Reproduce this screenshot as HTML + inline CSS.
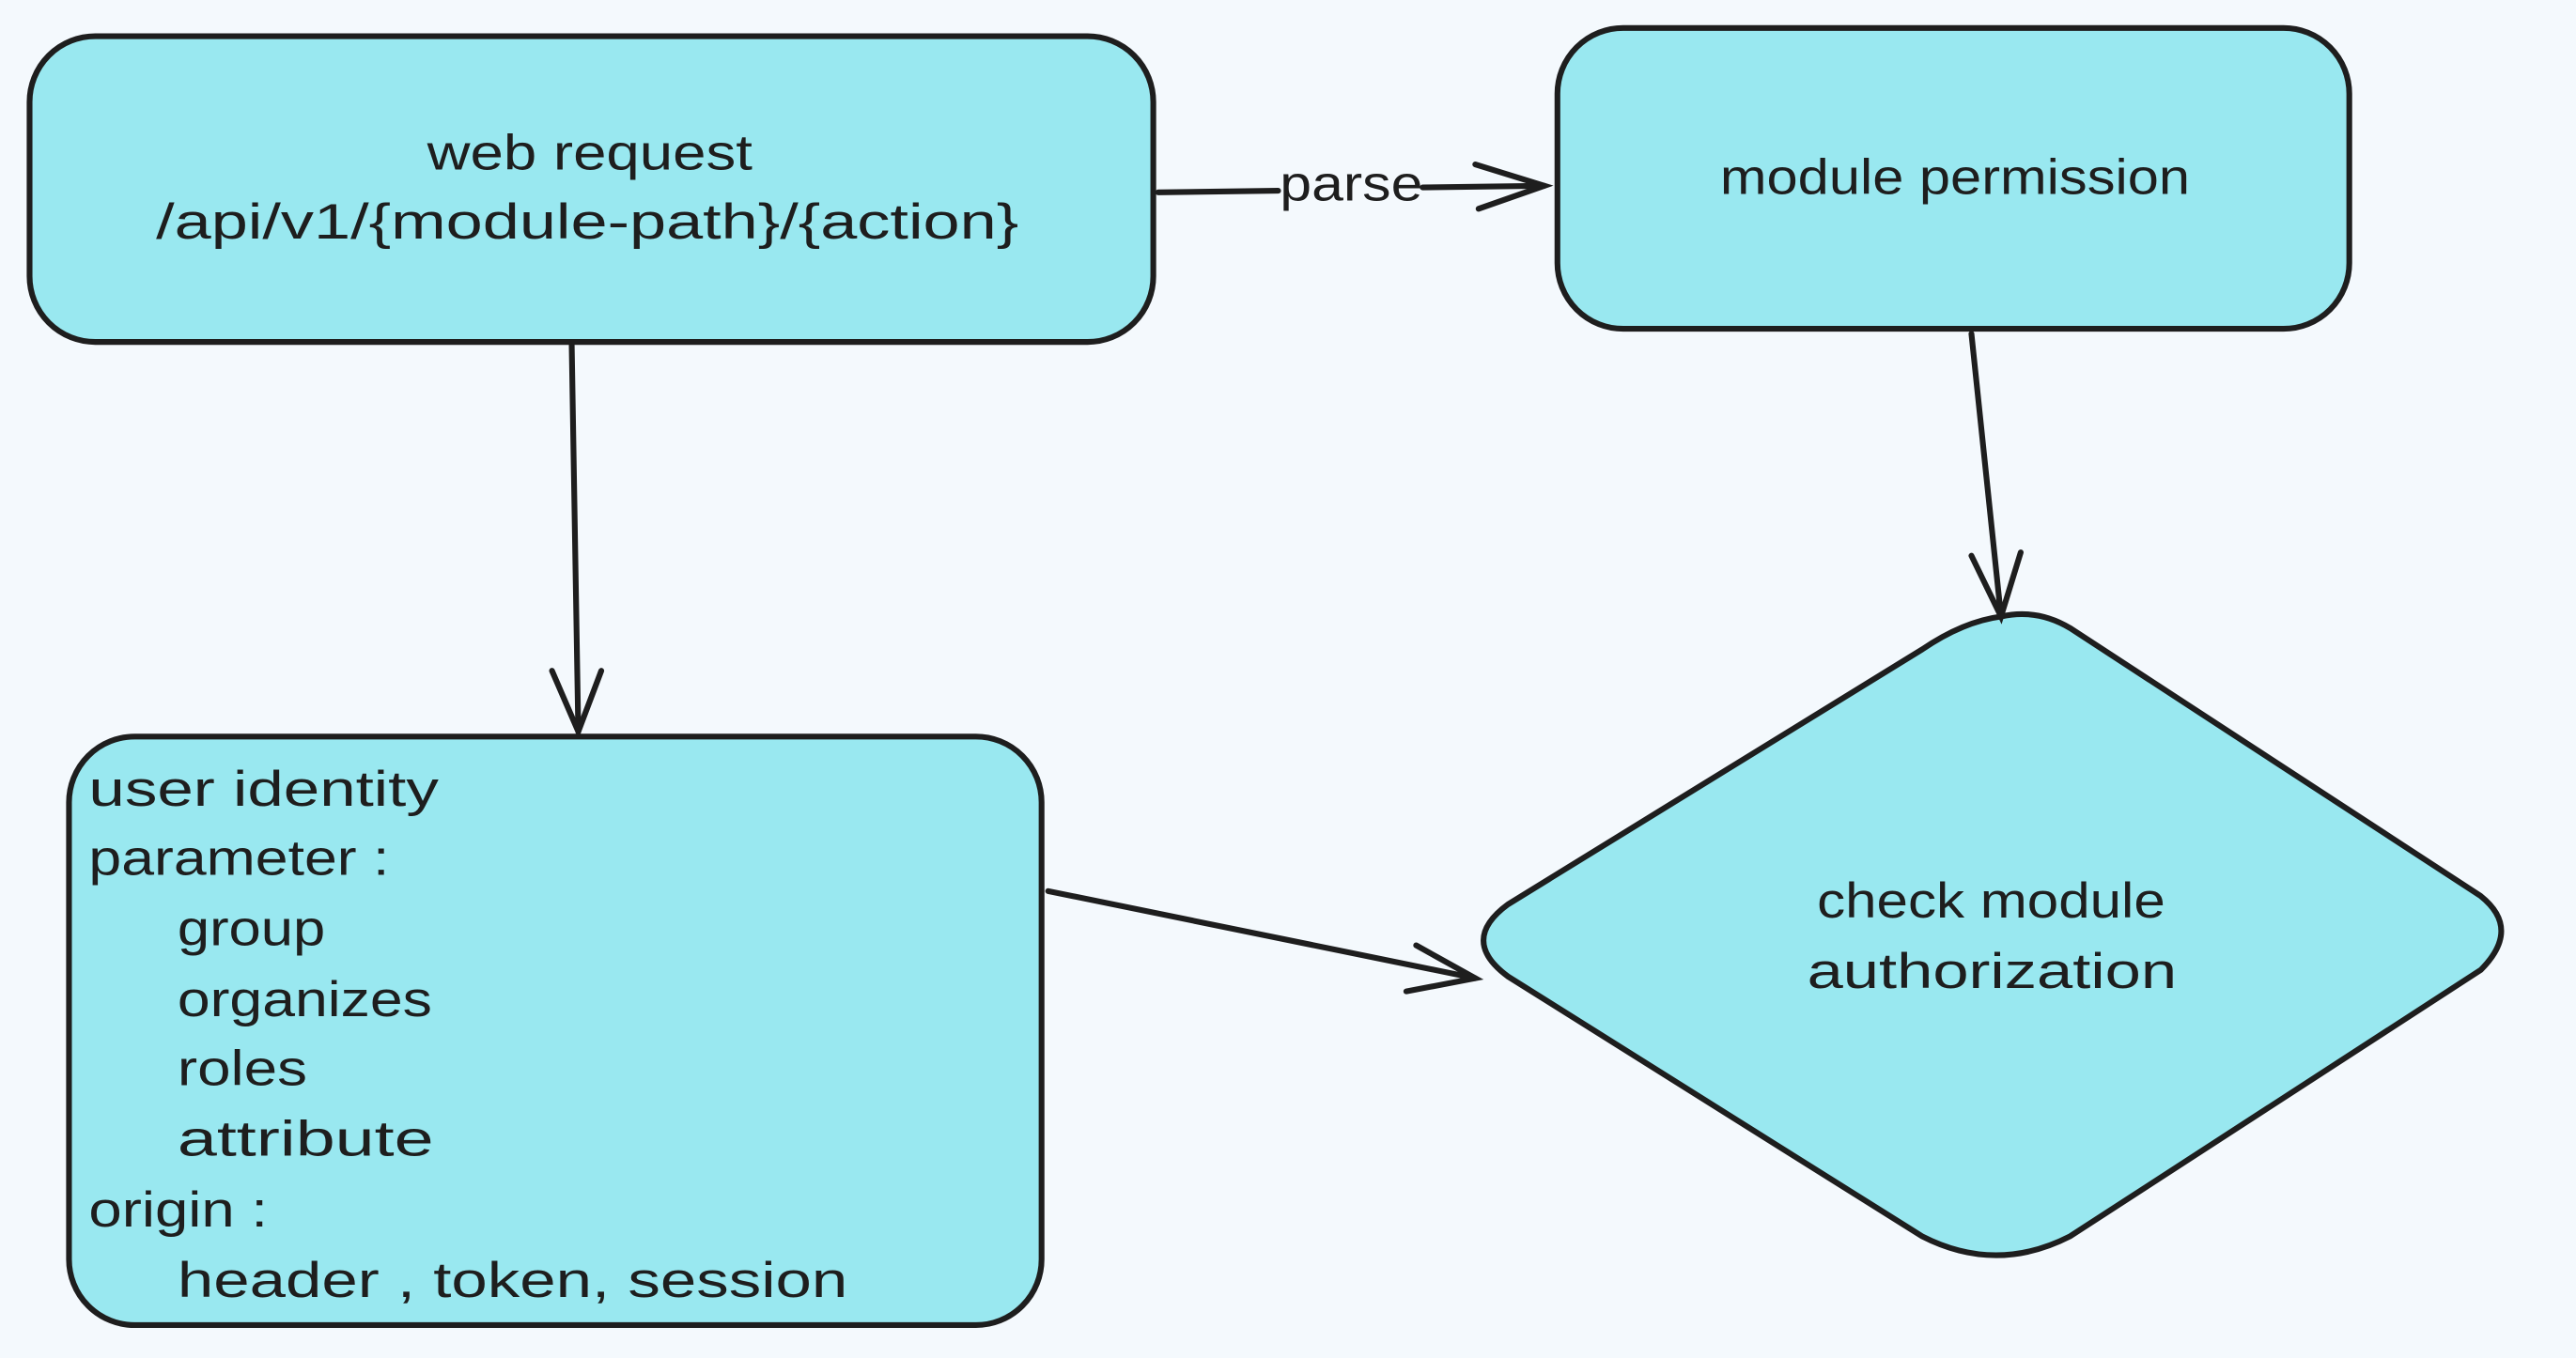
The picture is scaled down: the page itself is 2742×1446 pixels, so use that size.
<!DOCTYPE html>
<html><head><meta charset="utf-8"><style>
html,body{margin:0;padding:0;background:#f4f9fd;}
svg{display:block}
text{font-family:"Liberation Sans",sans-serif;fill:#1e1e1e;font-size:30px;}
</style></head><body>
<svg width="2742" height="1446" viewBox="0 0 1568 826" preserveAspectRatio="none" xmlns="http://www.w3.org/2000/svg">
<rect width="1568" height="826" fill="#f4f9fd"/>
<g stroke="#1e1e1e" stroke-width="3.5" fill="#99e8f0" stroke-linejoin="round">
<rect x="18" y="22" width="684" height="186" rx="40"/>
<rect x="948" y="17" width="482" height="183" rx="40"/>
<rect x="42" y="448" width="592" height="358" rx="40"/>
<path d="M1218 375 Q1240 370 1260 382 L1510 545 Q1535 565 1510 590 L1260 752 Q1215 775 1170 752 L918 594 Q888 572 918 550 L1170 395 Q1195 378 1218 375 Z"/>
</g>
<g stroke="#1e1e1e" stroke-width="3.5" fill="none" stroke-linecap="round">
<path d="M705 117 L778 116 M866 114 L940 113"/>
<path d="M898 100 L940 113 L900 127"/>
<path d="M348 210 L352 445"/>
<path d="M336 408 L352 445 L366 408"/>
<path d="M1200 203 L1218 375"/>
<path d="M1200 338 L1218 375 L1230 336"/>
<path d="M638 542 L898 595"/>
<path d="M862 575 L898 595 L856 603"/>
</g>
<g lengthAdjust="spacingAndGlyphs">
<text x="260" y="103" textLength="198" lengthAdjust="spacingAndGlyphs">web request</text>
<text x="95" y="145" textLength="525" lengthAdjust="spacingAndGlyphs">/api/v1/{module-path}/{action}</text>
<text x="779" y="122" textLength="87" lengthAdjust="spacingAndGlyphs">parse</text>
<text x="1047" y="118" textLength="286" lengthAdjust="spacingAndGlyphs">module permission</text>
<text x="1106" y="558" textLength="212" lengthAdjust="spacingAndGlyphs">check module</text>
<text x="1100" y="601" textLength="225" lengthAdjust="spacingAndGlyphs">authorization</text>
<text x="54" y="490" textLength="213" lengthAdjust="spacingAndGlyphs">user identity</text>
<text x="54" y="532" textLength="183" lengthAdjust="spacingAndGlyphs">parameter :</text>
<text x="108" y="575" textLength="90" lengthAdjust="spacingAndGlyphs">group</text>
<text x="108" y="618" textLength="155" lengthAdjust="spacingAndGlyphs">organizes</text>
<text x="108" y="660" textLength="79" lengthAdjust="spacingAndGlyphs">roles</text>
<text x="108" y="703" textLength="156" lengthAdjust="spacingAndGlyphs">attribute</text>
<text x="54" y="746" textLength="109" lengthAdjust="spacingAndGlyphs">origin :</text>
<text x="108" y="789" textLength="408" lengthAdjust="spacingAndGlyphs">header ,  token,  session</text>
</g>
</svg>
</body></html>
